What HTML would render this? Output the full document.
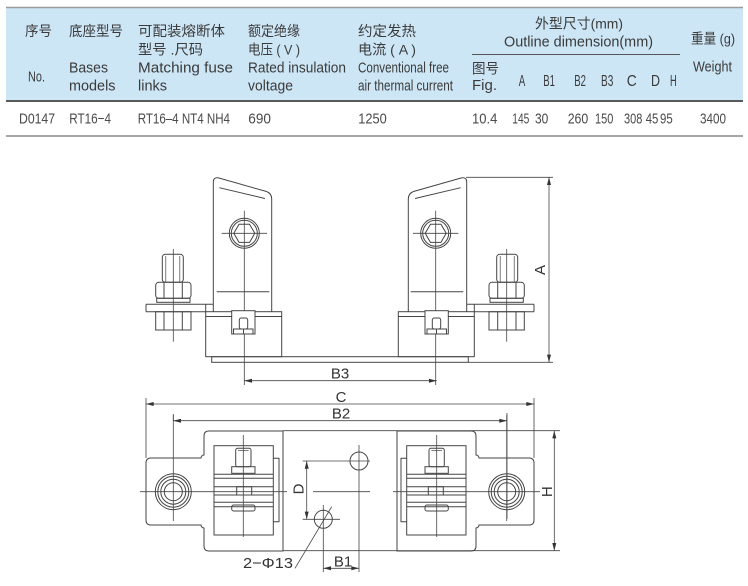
<!DOCTYPE html>
<html><head><meta charset="utf-8"><style>
html,body{margin:0;padding:0;background:#fff;}
svg{display:block;}
.t{font-family:"Liberation Sans","Noto Sans CJK SC",sans-serif;fill:#3a3a3a;}
</style></head><body>
<svg width="748" height="586" viewBox="0 0 748 586" xmlns="http://www.w3.org/2000/svg">
<!-- TABLE -->
<rect x="6" y="8" width="737" height="93" fill="#cde6f6"/>
<line x1="6" y1="7.5" x2="743" y2="7.5" stroke="#9a9a9a" stroke-width="1.6"/>
<line x1="6" y1="101" x2="743" y2="101" stroke="#5a5a5a" stroke-width="2"/>
<line x1="6" y1="136" x2="743" y2="136" stroke="#8a8a8a" stroke-width="1.6"/>
<line x1="472" y1="54.5" x2="680" y2="54.5" stroke="#555" stroke-width="1"/>
<g class="t" font-size="14">
<text x="25" y="36" textLength="27" lengthAdjust="spacingAndGlyphs">序号</text>
<text x="69" y="36" textLength="54" lengthAdjust="spacingAndGlyphs">底座型号</text>
<text x="138" y="36" textLength="87" lengthAdjust="spacingAndGlyphs">可配装熔断体</text>
<text x="138" y="54.5" textLength="65" lengthAdjust="spacingAndGlyphs">型号 .尺码</text>
<text x="248" y="36" textLength="52" lengthAdjust="spacingAndGlyphs">额定绝缘</text>
<text x="248" y="54.5" textLength="52" lengthAdjust="spacingAndGlyphs">电压 ( V )</text>
<text x="358" y="36" textLength="58" lengthAdjust="spacingAndGlyphs">约定发热</text>
<text x="358" y="54.5" textLength="58" lengthAdjust="spacingAndGlyphs">电流 ( A )</text>
<text x="535" y="28.5" textLength="88" lengthAdjust="spacingAndGlyphs">外型尺寸(mm)</text>
<text x="504" y="46.5" textLength="149" lengthAdjust="spacingAndGlyphs" font-size="15">Outline dimension(mm)</text>
<text x="691" y="43.5" textLength="44" lengthAdjust="spacingAndGlyphs">重量 (g)</text>
<text x="472" y="73.5" textLength="27" lengthAdjust="spacingAndGlyphs">图号</text>
<text x="472" y="90" textLength="25" lengthAdjust="spacingAndGlyphs" font-size="15">Fig.</text>
<text x="28" y="81.7" textLength="17" lengthAdjust="spacingAndGlyphs" font-size="15">No.</text>
<text x="69" y="72.7" textLength="39" lengthAdjust="spacingAndGlyphs" font-size="15">Bases</text>
<text x="69" y="90.7" textLength="46.5" lengthAdjust="spacingAndGlyphs" font-size="15">models</text>
<text x="138" y="72.7" textLength="95" lengthAdjust="spacingAndGlyphs" font-size="15">Matching fuse</text>
<text x="138" y="90.7" textLength="29" lengthAdjust="spacingAndGlyphs" font-size="15">links</text>
<text x="248" y="72.7" textLength="98" lengthAdjust="spacingAndGlyphs" font-size="15">Rated insulation</text>
<text x="248" y="90.7" textLength="45" lengthAdjust="spacingAndGlyphs" font-size="15">voltage</text>
<text x="358" y="72.7" textLength="91" lengthAdjust="spacingAndGlyphs" font-size="15">Conventional free</text>
<text x="358" y="90.7" textLength="95" lengthAdjust="spacingAndGlyphs" font-size="15">air thermal current</text>
<text x="693" y="71.7" textLength="39" lengthAdjust="spacingAndGlyphs" font-size="15">Weight</text>
<g font-size="16">
<text x="518.7" y="86" textLength="6.5" lengthAdjust="spacingAndGlyphs">A</text>
<text x="543.3" y="86" textLength="11.7" lengthAdjust="spacingAndGlyphs">B1</text>
<text x="574.3" y="86" textLength="11.7" lengthAdjust="spacingAndGlyphs">B2</text>
<text x="601" y="86" textLength="12.3" lengthAdjust="spacingAndGlyphs">B3</text>
<text x="626.7" y="86" textLength="10" lengthAdjust="spacingAndGlyphs">C</text>
<text x="651" y="86" textLength="9" lengthAdjust="spacingAndGlyphs">D</text>
<text x="670" y="86" textLength="6.7" lengthAdjust="spacingAndGlyphs">H</text>
</g>
</g>
<g class="t" font-size="15" style="fill:#4a4a4a">
<text x="19" y="123.3" textLength="36" lengthAdjust="spacingAndGlyphs">D0147</text>
<text x="69.3" y="123.3" textLength="41.7" lengthAdjust="spacingAndGlyphs">RT16−4</text>
<text x="137.7" y="123.3" textLength="92.3" lengthAdjust="spacingAndGlyphs">RT16–4 NT4 NH4</text>
<text x="248.3" y="123.3" textLength="22.7" lengthAdjust="spacingAndGlyphs">690</text>
<text x="358.3" y="123.3" textLength="28.4" lengthAdjust="spacingAndGlyphs">1250</text>
<text x="472" y="123.3" textLength="25.3" lengthAdjust="spacingAndGlyphs">10.4</text>
<text x="512.3" y="123.3" textLength="17" lengthAdjust="spacingAndGlyphs">145</text>
<text x="535" y="123.3" textLength="13.3" lengthAdjust="spacingAndGlyphs">30</text>
<text x="567.7" y="123.3" textLength="20.6" lengthAdjust="spacingAndGlyphs">260</text>
<text x="595" y="123.3" textLength="18.3" lengthAdjust="spacingAndGlyphs">150</text>
<text x="624" y="123.3" textLength="18.3" lengthAdjust="spacingAndGlyphs">308</text>
<text x="645.7" y="123.3" textLength="12.6" lengthAdjust="spacingAndGlyphs">45</text>
<text x="660" y="123.3" textLength="12.7" lengthAdjust="spacingAndGlyphs">95</text>
<text x="700" y="123.3" textLength="26" lengthAdjust="spacingAndGlyphs">3400</text>
</g>

<!-- FRONT VIEW -->
<g stroke="#454545" stroke-width="1" fill="none">
<g id="fl">
  <path d="M213.3,311.7 V182 Q213.3,177.3 218,177.8 L266.5,191.5 Q271.7,193.5 271.7,199 V311.7"/>
  <line x1="219.3" y1="187.7" x2="265" y2="198.5"/>
  <line x1="216.7" y1="291.7" x2="269.3" y2="291.7"/>
  <circle cx="244.3" cy="233.3" r="15"/>
  <circle cx="244.3" cy="233.3" r="13"/>
  <polygon points="254.8,233.3 249.55,242.4 239.05,242.4 233.8,233.3 239.05,224.2 249.55,224.2"/>
  <line x1="221.7" y1="233.3" x2="267" y2="233.3" stroke-width="0.8"/>
  <line x1="244.3" y1="210.7" x2="244.3" y2="385" stroke-width="0.8"/>
  <line x1="146" y1="304.3" x2="213.3" y2="304.3"/>
  <line x1="146" y1="311.7" x2="205.7" y2="311.7"/>
  <line x1="146" y1="304.3" x2="146" y2="311.7"/>
  <line x1="205.7" y1="304.3" x2="205.7" y2="311.7"/>
  <rect x="205.7" y="311.7" width="76" height="45"/>
  <line x1="205.7" y1="316.5" x2="281.7" y2="316.5"/>
  <rect x="231.7" y="310.7" width="23.3" height="23.3" fill="#fff"/>
  <rect x="239.3" y="318" width="8.4" height="11" rx="2"/>
  <rect x="233.5" y="329" width="19.5" height="5"/>
  <line x1="243.5" y1="329" x2="243.5" y2="334"/>
  <rect x="162.3" y="254.3" width="21" height="28" rx="3"/>
  <line x1="165.8" y1="256" x2="165.8" y2="282.3" stroke-width="0.7"/>
  <line x1="179.8" y1="256" x2="179.8" y2="282.3" stroke-width="0.7"/>
  <rect x="155.7" y="282.3" width="35.3" height="16" rx="3"/>
  <line x1="164" y1="282.3" x2="164" y2="298.3"/>
  <line x1="182.3" y1="282.3" x2="182.3" y2="298.3"/>
  <rect x="156.7" y="298.3" width="33.3" height="4"/>
  <rect x="155.7" y="311.7" width="35.3" height="18.3"/>
  <line x1="164" y1="311.7" x2="164" y2="330"/>
  <line x1="182.3" y1="311.7" x2="182.3" y2="330"/>
  <line x1="173.3" y1="249" x2="173.3" y2="341.7" stroke-width="0.8"/>
</g>
<use href="#fl" transform="translate(680,0) scale(-1,1)"/>
<rect x="211.7" y="356.7" width="256.6" height="5.6"/>
<line x1="466" y1="177.3" x2="553" y2="177.3" stroke-width="0.8"/>
<line x1="468.3" y1="362.3" x2="553" y2="362.3" stroke-width="0.8"/>
<line x1="549" y1="177.3" x2="549" y2="362.3" stroke-width="0.8"/>
<line x1="244.3" y1="380.7" x2="436.7" y2="380.7" stroke-width="0.8"/>
</g>
<g fill="#333">
<polygon points="549,177.3 547,185 551,185"/>
<polygon points="549,362.3 547,354.6 551,354.6"/>
<polygon points="244.3,380.7 252,378.7 252,382.7"/>
<polygon points="436.7,380.7 429,378.7 429,382.7"/>
</g>
<g class="t" font-size="15" style="fill:#333">
<text x="340" y="378.3" text-anchor="middle">B3</text>
<text x="0" y="0" text-anchor="middle" transform="translate(545,270) rotate(-90)">A</text>
</g>

<!-- PLAN VIEW -->
<g stroke="#454545" stroke-width="1" fill="none">
<g id="pl">
  <path d="M209,431 L283,431 L283,551 L209,551 Q204,551 204,546 L204,528 A3,3 0 0 1 201,525 L151,525 Q146,525 146,520 L146,463 Q146,458 151,458 L201,458 A3,3 0 0 1 204,455 L204,436 Q204,431 209,431 Z"/>
  <path d="M273.3,458.3 H279 V521.7 H273.3"/>
  <rect x="214" y="445.7" width="59.3" height="89.3"/>
  <line x1="214" y1="474.3" x2="273.3" y2="474.3"/>
  <line x1="214" y1="478.3" x2="273.3" y2="478.3"/>
  <line x1="214" y1="486.7" x2="273.3" y2="486.7"/>
  <line x1="214" y1="495" x2="273.3" y2="495"/>
  <line x1="214" y1="502.3" x2="273.3" y2="502.3"/>
  <line x1="214" y1="506.7" x2="273.3" y2="506.7"/>
  <rect x="235.7" y="448.3" width="15.3" height="18.4" rx="2"/>
  <line x1="238" y1="450.5" x2="248.7" y2="450.5" stroke-width="0.7"/>
  <rect x="231.7" y="466.7" width="23.3" height="6.6"/>
  <rect x="236.7" y="486.7" width="15" height="8.3"/>
  <rect x="231.7" y="505" width="23.3" height="6" rx="2"/>
  <line x1="243.3" y1="435" x2="243.3" y2="537" stroke-width="0.8"/>
  <circle cx="173.3" cy="491.7" r="18"/>
  <circle cx="173.3" cy="491.7" r="15.5"/>
  <circle cx="173.3" cy="491.7" r="12.5"/>
  <circle cx="173.3" cy="491.7" r="9"/>
  <line x1="173.3" y1="415" x2="173.3" y2="521" stroke-width="0.8"/>
  <line x1="140" y1="491.7" x2="287" y2="491.7" stroke-width="0.8"/>
</g>
<use href="#pl" transform="translate(680,0) scale(-1,1)"/>
<line x1="313" y1="491.7" x2="370" y2="491.7" stroke-width="0.8"/>
<line x1="283" y1="430.7" x2="560" y2="430.7" stroke-width="0.8"/>
<line x1="283" y1="550.7" x2="560" y2="550.7" stroke-width="0.8"/>
<line x1="146" y1="398" x2="146" y2="458" stroke-width="0.8"/>
<line x1="534" y1="398" x2="534" y2="458" stroke-width="0.8"/>
<line x1="146" y1="404" x2="534" y2="404" stroke-width="0.8"/>
<line x1="173.3" y1="414" x2="173.3" y2="420.7" stroke-width="0.8"/>
<line x1="507" y1="413" x2="507" y2="519" stroke-width="0.8"/>
<line x1="173.3" y1="420.7" x2="507" y2="420.7" stroke-width="0.8"/>
<line x1="554.3" y1="430.7" x2="554.3" y2="550.7" stroke-width="0.8"/>
<circle cx="359" cy="461" r="9"/>
<circle cx="323.3" cy="519.3" r="9"/>
<line x1="302.7" y1="461" x2="370" y2="461" stroke-width="0.8"/>
<line x1="302.7" y1="519.3" x2="340" y2="519.3" stroke-width="0.8"/>
<line x1="359" y1="445" x2="359" y2="572" stroke-width="0.8"/>
<line x1="323.3" y1="505" x2="323.3" y2="572" stroke-width="0.8"/>
<line x1="306.7" y1="461" x2="306.7" y2="519.3" stroke-width="0.8"/>
<line x1="323.3" y1="568.3" x2="359" y2="568.3" stroke-width="0.8"/>
<line x1="331.7" y1="506.7" x2="295" y2="568.3" stroke-width="0.8"/>
</g>
<g fill="#333">
<polygon points="146,404 153.7,402 153.7,406"/>
<polygon points="534,404 526.3,402 526.3,406"/>
<polygon points="173.3,420.7 181,418.7 181,422.7"/>
<polygon points="507,420.7 499.3,418.7 499.3,422.7"/>
<polygon points="554.3,430.7 552.3,438.4 556.3,438.4"/>
<polygon points="554.3,550.7 552.3,543 556.3,543"/>
<polygon points="306.7,461 304.7,468.7 308.7,468.7"/>
<polygon points="306.7,519.3 304.7,511.6 308.7,511.6"/>
<polygon points="323.3,568.3 331,566.3 331,570.3"/>
<polygon points="359,568.3 351.3,566.3 351.3,570.3"/>
</g>
<g class="t" font-size="15" style="fill:#333">
<text x="341" y="402" text-anchor="middle">C</text>
<text x="341" y="418.5" text-anchor="middle">B2</text>
<text x="343" y="566.7" text-anchor="middle">B1</text>
<text x="243" y="568" textLength="50" lengthAdjust="spacingAndGlyphs">2−Φ13</text>
<text x="0" y="0" text-anchor="middle" transform="translate(303.5,489) rotate(-90)">D</text>
<text x="0" y="0" text-anchor="middle" transform="translate(552,491.7) rotate(-90)">H</text>
</g>
</svg>
</body></html>
